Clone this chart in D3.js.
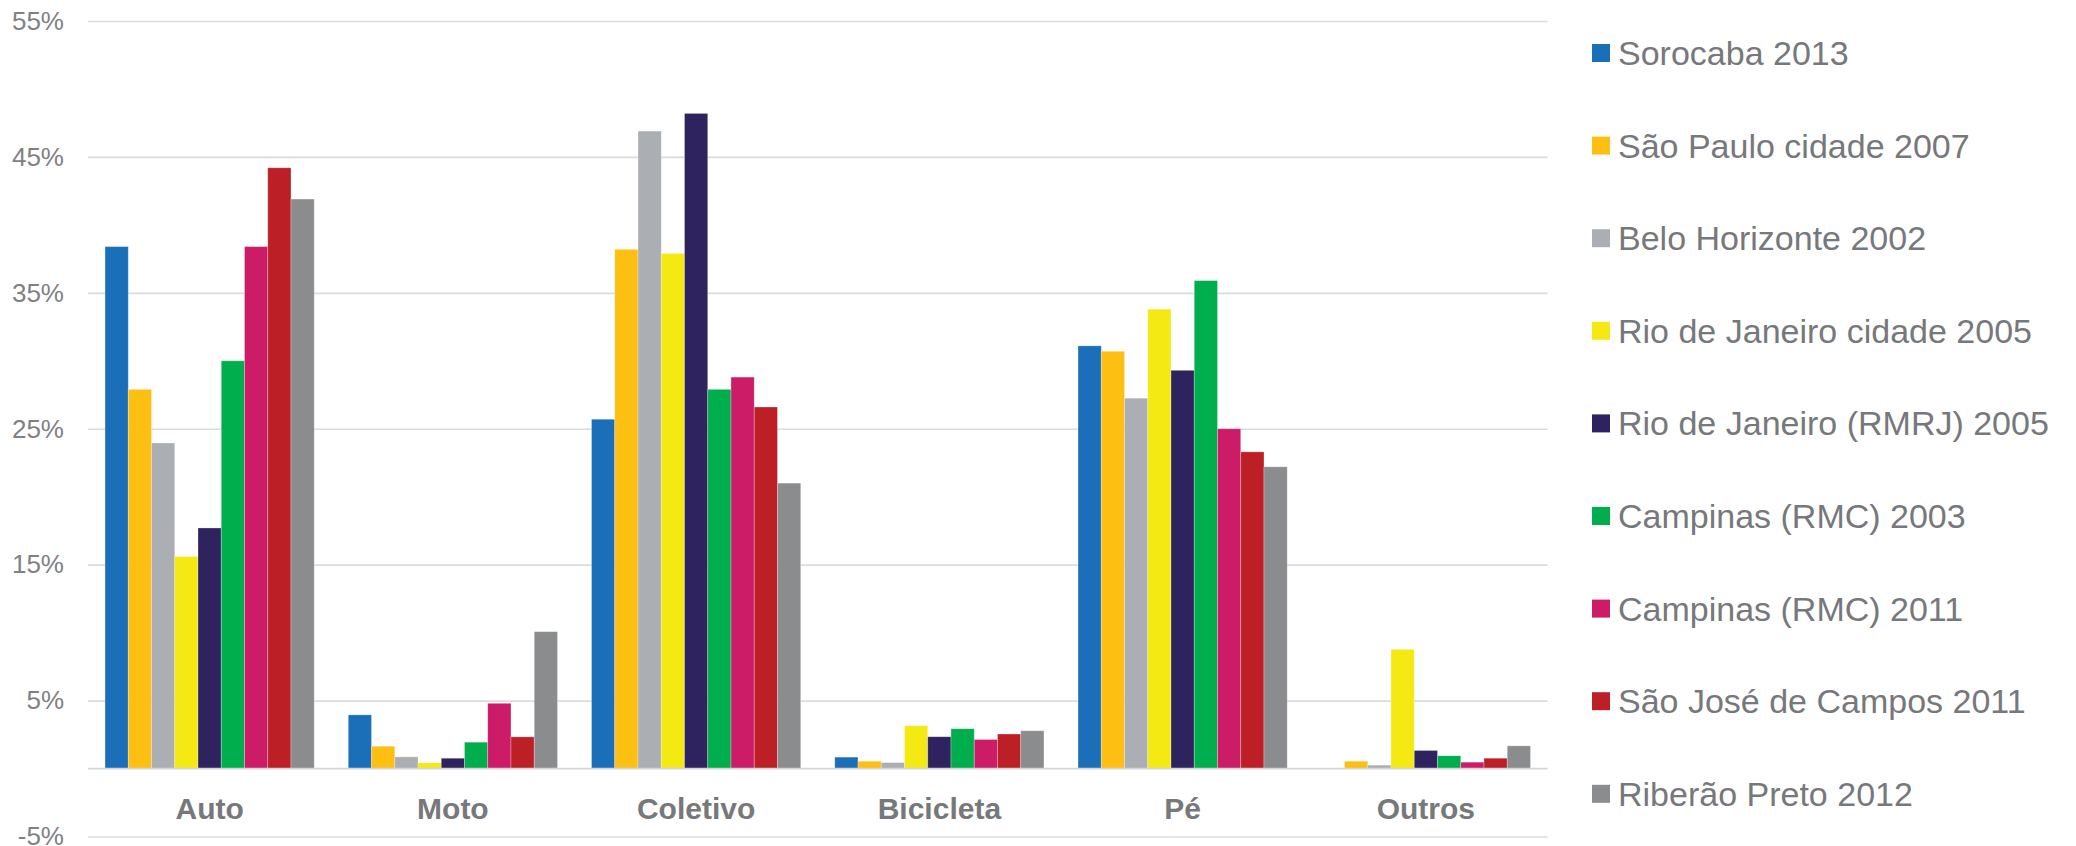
<!DOCTYPE html>
<html>
<head>
<meta charset="utf-8">
<script src="https://cdn.jsdelivr.net/npm/d3@7/dist/d3.min.js"></script>
<style>
  html, body { margin: 0; padding: 0; background: #ffffff; }
  svg { display: block; }
  text { font-family: "Liberation Sans", Arial, sans-serif; }
</style>
</head>
<body>
<svg id="chart" width="2076" height="846"></svg>
<script>
// ---- data ----
const categories = ["Auto", "Moto", "Coletivo", "Bicicleta", "Pé", "Outros"];
const seriesNames = [
  "Sorocaba 2013",
  "São Paulo cidade 2007",
  "Belo Horizonte 2002",
  "Rio de Janeiro cidade 2005",
  "Rio de Janeiro (RMRJ) 2005",
  "Campinas (RMC) 2003",
  "Campinas (RMC) 2011",
  "São José de Campos 2011",
  "Riberão Preto 2012"
];
const seriesColors = ["#1b6fb8", "#fcbf12", "#abaeb2", "#f5e914", "#2e235e", "#00ae4d", "#cc1c67", "#bd1f26", "#8b8c8e"];
const sorocaba2013      = [38.4, 3.95, 25.7, 0.84, 31.1, 0];
const saoPaulo2007      = [27.9, 1.64, 38.2, 0.54, 30.7, 0.54];
const beloHorizonte2002 = [23.95, 0.86, 46.9, 0.44, 27.25, 0.25];
const rioCidade2005     = [15.6, 0.42, 37.9, 3.15, 33.8, 8.77];
const rioRMRJ2005       = [17.7, 0.76, 48.2, 2.34, 29.3, 1.33];
const campinas2003      = [30.0, 1.94, 27.9, 2.93, 35.9, 0.94];
const campinas2011      = [38.4, 4.8, 28.8, 2.14, 25.0, 0.47];
const saoJose2011       = [44.2, 2.33, 26.6, 2.54, 23.3, 0.76];
const ribeirao2012      = [41.9, 10.07, 21.0, 2.78, 22.2, 1.67];
const seriesValues = [sorocaba2013, saoPaulo2007, beloHorizonte2002, rioCidade2005, rioRMRJ2005,
                      campinas2003, campinas2011, saoJose2011, ribeirao2012];
const yTicks = [-5, 5, 15, 25, 35, 45, 55];

// ---- layout ----
const svg = d3.select("#chart");
const plotLeft = 88, plotRight = 1547.5;
const y = d3.scaleLinear().domain([-5, 55]).range([836.5, 21]);
const x0 = d3.scaleBand().domain(categories).range([plotLeft, plotRight])
  .paddingInner(0.14).paddingOuter(0.07);
const x1 = d3.scaleBand().domain(seriesNames).range([0, x0.bandwidth()]).padding(0);
const color = d3.scaleOrdinal().domain(seriesNames).range(seriesColors);

// gridlines + y labels via axis
const yAxis = d3.axisLeft(y).tickValues(yTicks).tickSize(-(plotRight - plotLeft))
  .tickFormat(d => d + "%").tickPadding(24);
const gy = svg.append("g").attr("transform", `translate(${plotLeft},0)`).call(yAxis);
gy.select(".domain").remove();
gy.selectAll(".tick line").attr("stroke", "#dcdcdc").attr("stroke-width", 1.6);
gy.selectAll(".tick text").attr("fill", "#808184").attr("font-size", 26)
  .attr("font-family", "Liberation Sans, Arial, sans-serif");

// bars
const groups = svg.append("g").selectAll("g").data(categories).join("g")
  .attr("transform", d => `translate(${x0(d)},0)`);
groups.selectAll("rect")
  .data((c, ci) => seriesNames.map((s, si) => ({ s, v: seriesValues[si][ci] })))
  .join("rect")
  .attr("x", d => x1(d.s))
  .attr("width", x1.bandwidth())
  .attr("y", d => y(Math.max(0, d.v)))
  .attr("height", d => Math.abs(y(d.v) - y(0)))
  .attr("fill", d => color(d.s))
  .attr("stroke", "#ffffff").attr("stroke-opacity", 0.35).attr("stroke-width", 0.8);

// zero baseline
svg.append("line")
  .attr("x1", plotLeft).attr("x2", plotRight)
  .attr("y1", y(0)).attr("y2", y(0))
  .attr("stroke", "#d6d6d6").attr("stroke-width", 1.8);

// category axis labels
const xAxis = d3.axisBottom(x0).tickSize(0).tickPadding(0);
const gx = svg.append("g").attr("transform", `translate(0,${y(0)})`).call(xAxis);
gx.select(".domain").remove();
gx.selectAll(".tick text")
  .attr("fill", "#77787b").attr("font-size", 30).attr("font-weight", "bold")
  .attr("font-family", "Liberation Sans, Arial, sans-serif")
  .attr("dy", null).attr("y", 50);

// legend
const legend = svg.append("g").selectAll("g").data(seriesNames).join("g")
  .attr("transform", (d, i) => `translate(1592,${53 + i * 92.6})`);
legend.append("rect").attr("x", 0).attr("y", -9).attr("width", 18).attr("height", 18)
  .attr("fill", d => color(d));
legend.append("text").attr("x", 26).attr("y", 12)
  .attr("fill", "#77787b").attr("font-size", 34)
  .text(d => d);
</script>
</body>
</html>
